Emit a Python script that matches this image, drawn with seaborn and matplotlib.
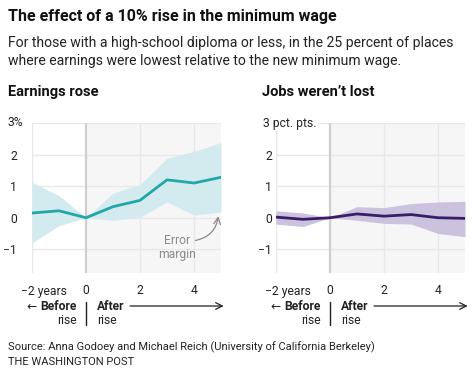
import matplotlib
matplotlib.use("Agg")
import matplotlib.pyplot as plt
import matplotlib.transforms as mtransforms
import seaborn as sns
import pandas as pd

# data
years = [-2, -1, 0, 1, 2, 3, 4, 5]
earnings = [0.15, 0.22, 0.0, 0.35, 0.55, 1.20, 1.10, 1.28]
earnings_hi = [1.12, 0.70, 0.0, 0.78, 1.05, 1.88, 2.10, 2.38]
earnings_lo = [-0.80, -0.25, 0.0, -0.08, 0.02, 0.50, 0.08, 0.18]
jobs = [0.02, -0.05, 0.0, 0.12, 0.05, 0.10, 0.0, -0.02]
jobs_hi = [0.22, 0.15, 0.0, 0.35, 0.32, 0.45, 0.50, 0.52]
jobs_lo = [-0.20, -0.28, 0.0, -0.08, -0.18, -0.20, -0.50, -0.60]
yticks = [-1, 0, 1, 2, 3]
xticks = [-2, 0, 2, 4]

sns.set_theme(style="white")
plt.rcParams['font.family'] = ['Roboto', 'DejaVu Sans']
TXT = '#222222'
FS = 8.7

fig = plt.figure(figsize=(4.74, 3.76), dpi=100)
W, H = 474, 376


def px_box(x0, x1, ytop, ybot):
    return [x0 / W, 1 - ybot / H, (x1 - x0) / W, (ybot - ytop) / H]


ax1 = fig.add_axes(px_box(32, 221, 123, 273))
ax2 = fig.add_axes(px_box(276, 465, 123, 273))

panels = [
    (ax1, earnings, earnings_hi, earnings_lo, '#22a7a9', '#d3ebee', '3%', 15, 24),
    (ax2, jobs, jobs_hi, jobs_lo, '#3b1c6a', '#cbc3de', '3 pct. pts.', 4, 13),
]

for ax, vals, hi, lo, line_c, band_c, top_lab, pad, top_off in panels:
    df = pd.DataFrame({'year': years, 'value': vals})
    ax.axvspan(0, 5, color='#f6f6f6', lw=0, zorder=0)
    for y in yticks:
        ax.axhline(y, color='#e8e8e8', lw=1, zorder=1)
    for x in [-2, 2, 4]:
        ax.axvline(x, color='#e8e8e8', lw=1, zorder=1)
    ax.axvline(0, color='#cfcfcf', lw=1.6, zorder=1)
    ax.fill_between(years, lo, hi, color=band_c, lw=0, zorder=2)
    sns.lineplot(data=df, x='year', y='value', ax=ax, color=line_c, lw=2, zorder=3)
    ax.set_xlim(-2, 5)
    ax.set_ylim(-1.75, 3)
    for s in ax.spines.values():
        s.set_visible(False)
    ax.set_xlabel('')
    ax.set_ylabel('')
    ax.set_yticks(yticks)
    ax.set_yticklabels(['\u22121', '0', '1', '2', ''])
    ax.set_xticks(xticks)
    ax.set_xticklabels(['', '0', '2', '4'])
    ax.tick_params(axis='y', length=0, pad=pad * 0.72, labelsize=FS, labelcolor=TXT)
    ax.tick_params(axis='x', length=0, pad=8, labelsize=FS, labelcolor=TXT)
    ax.annotate(top_lab, xy=(0, 3), xycoords=('axes fraction', 'data'),
                xytext=(-top_off * 0.72, 0), textcoords='offset points',
                ha='left', va='center', fontsize=FS, color=TXT,
                bbox=dict(fc='white', ec='none', pad=1.0), zorder=5,
                annotation_clip=False)
    ax.annotate('\u22122 years', xy=(-2, 0), xycoords=('data', 'axes fraction'),
                xytext=(-8, -8 - FS * 0.6), textcoords='offset points',
                ha='left', va='center', fontsize=FS, color=TXT,
                annotation_clip=False)

    # before / after markers under each panel
    tr = mtransforms.blended_transform_factory(ax.transData, fig.transFigure)
    y1, y2 = 1 - 306 / H, 1 - 320 / H
    fig.text(-2.2, y1, '\u2190', transform=tr, ha='left', va='center', fontsize=FS, color=TXT)
    fig.text(-0.33, y1, 'Before', transform=tr, ha='right', va='center', fontsize=FS,
             fontweight='bold', color=TXT)
    fig.text(-0.33, y2, 'rise', transform=tr, ha='right', va='center', fontsize=FS, color=TXT)
    fig.text(0.41, y1, 'After', transform=tr, ha='left', va='center', fontsize=FS,
             fontweight='bold', color=TXT)
    fig.text(0.41, y2, 'rise', transform=tr, ha='left', va='center', fontsize=FS, color=TXT)
    fig.add_artist(plt.Line2D([0, 0], [1 - 302 / H, 1 - 325 / H], transform=tr,
                              color=TXT, lw=1))
    ax.annotate('', xy=(5.1, y1), xycoords=tr, xytext=(1.63, y1), textcoords=tr,
                arrowprops=dict(arrowstyle='->', color=TXT, lw=0.9,
                                shrinkA=0, shrinkB=0),
                annotation_clip=False)

# error margin callout
ax1.text(3.37, -0.94, 'Error\nmargin', ha='center', va='center', fontsize=FS,
         color='#8a8a8a', linespacing=1.1, zorder=4)
ax1.annotate('', xy=(4.9, 0.05), xytext=(4.05, -0.72),
             arrowprops=dict(arrowstyle='->', color='#8a8a8a', lw=0.9,
                             connectionstyle='arc3,rad=0.35', shrinkA=0, shrinkB=0),
             zorder=4)

# titles and notes
fig.text(8 / W, 1 - 16 / H, 'The effect of a 10% rise in the minimum wage',
         ha='left', va='center', fontsize=11.5, fontweight='bold', color='#111111')
fig.text(8 / W, 1 - 52 / H,
         'For those with a high-school diploma or less, in the 25 percent of places\n'
         'where earnings were lowest relative to the new minimum wage.',
         ha='left', va='center', fontsize=10.1, color=TXT, linespacing=1.3)
fig.text(8 / W, 1 - 92 / H, 'Earnings rose', ha='left', va='center',
         fontsize=10.5, fontweight='bold', color='#111111')
fig.text(262 / W, 1 - 92 / H, 'Jobs weren\u2019t lost', ha='left', va='center',
         fontsize=10.5, fontweight='bold', color='#111111')
fig.text(8 / W, 1 - 347 / H,
         'Source: Anna Godoey and Michael Reich (University of California Berkeley)',
         ha='left', va='center', fontsize=8.0, color=TXT)
fig.text(8 / W, 1 - 362 / H, 'THE WASHINGTON POST', ha='left', va='center',
         fontsize=8.0, color=TXT)

fig.savefig('out.png', dpi=100)
